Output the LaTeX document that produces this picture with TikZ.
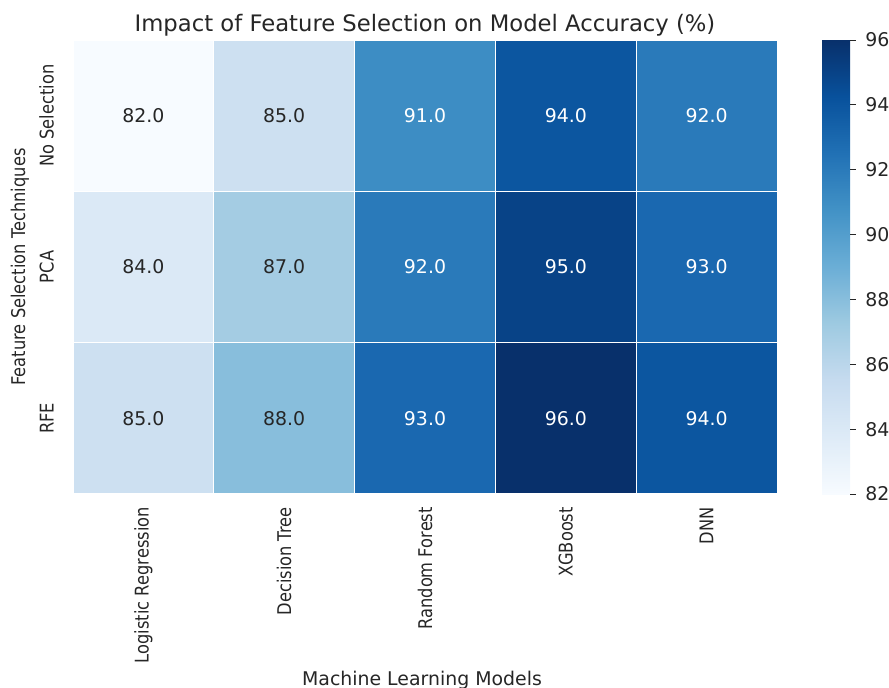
\documentclass[tikz,border=0pt]{standalone}
\usepackage{fontspec}
\setmainfont{DejaVu Sans}
\usepackage{xcolor}

\definecolor{txtgray}{RGB}{38,38,38}
% cell fills, one per value
\definecolor{v82}{RGB}{247,251,255}
\definecolor{v84}{RGB}{219,233,246}
\definecolor{v85}{RGB}{205,224,241}
\definecolor{v87}{RGB}{164,204,227}
\definecolor{v88}{RGB}{136,190,220}
\definecolor{v91}{RGB}{61,141,196}
\definecolor{v92}{RGB}{42,122,186}
\definecolor{v93}{RGB}{26,104,176}
\definecolor{v94}{RGB}{12,86,160}
\definecolor{v95}{RGB}{8,67,135}
\definecolor{v96}{RGB}{8,48,107}
% blues colormap stops
\definecolor{b0}{RGB}{247,251,255}
\definecolor{b1}{RGB}{222,235,247}
\definecolor{b2}{RGB}{198,219,239}
\definecolor{b3}{RGB}{158,202,225}
\definecolor{b4}{RGB}{107,174,214}
\definecolor{b5}{RGB}{66,146,198}
\definecolor{b6}{RGB}{33,113,181}
\definecolor{b7}{RGB}{8,81,156}
\definecolor{b8}{RGB}{8,48,107}
\pgfdeclareverticalshading{blues}{100bp}{color(0bp)=(b0); color(25bp)=(b0);
	color(31.25bp)=(b1); color(37.5bp)=(b2); color(43.75bp)=(b3);
	color(50bp)=(b4); color(56.25bp)=(b5); color(62.5bp)=(b6);
	color(68.75bp)=(b7); color(75bp)=(b8); color(100bp)=(b8)}

\begin{document}
\begin{tikzpicture}[x=1pt, y=-1pt, font=\fontsize{18.9}{22}\selectfont, text=txtgray]
	\tikzstyle{cell}=[draw=white, line width=1pt, minimum width=140.8pt, minimum height=151.3pt, inner sep=0pt]
	\tikzstyle{darkcell}=[cell, text=white]
	\tikzstyle{ylab}=[rotate=90, xscale=0.86, anchor=base, inner sep=0pt]
	\tikzstyle{xlab}=[rotate=90, xscale=0.86, anchor=east, inner sep=0pt]
	\tikzstyle{cbtick}=[anchor=west, inner sep=0pt, xshift=9pt]
	\tikzstyle{tickmark}=[draw=txtgray, line width=0.8pt]

	\useasboundingbox (0,0) rectangle (889,688);

	\node[anchor=base, font=\fontsize{22.7}{27}\selectfont] (title) at (425,31) {Impact of Feature Selection on Model Accuracy (\%)};

	%%%% No Selection
	\node[cell, fill=v82] (ns-lr) at (143.4,115.7) {82.0};
	\node[cell, fill=v85] (ns-dt) at (284.2,115.7) {85.0};
	\node[darkcell, fill=v91] (ns-rf) at (425.0,115.7) {91.0};
	\node[darkcell, fill=v94] (ns-xg) at (565.8,115.7) {94.0};
	\node[darkcell, fill=v92] (ns-dnn) at (706.6,115.7) {92.0};

	%%%% PCA
	\node[cell, fill=v84] (pca-lr) at (143.4,267.0) {84.0};
	\node[cell, fill=v87] (pca-dt) at (284.2,267.0) {87.0};
	\node[darkcell, fill=v92] (pca-rf) at (425.0,267.0) {92.0};
	\node[darkcell, fill=v95] (pca-xg) at (565.8,267.0) {95.0};
	\node[darkcell, fill=v93] (pca-dnn) at (706.6,267.0) {93.0};

	%%%% RFE
	\node[cell, fill=v85] (rfe-lr) at (143.4,418.3) {85.0};
	\node[cell, fill=v88] (rfe-dt) at (284.2,418.3) {88.0};
	\node[darkcell, fill=v93] (rfe-rf) at (425.0,418.3) {93.0};
	\node[darkcell, fill=v96] (rfe-xg) at (565.8,418.3) {96.0};
	\node[darkcell, fill=v94] (rfe-dnn) at (706.6,418.3) {94.0};

	% row labels
	\node[ylab] (lab-ns) at (53.5,115.7) {No Selection};
	\node[ylab] (lab-pca) at (53.5,267.0) {PCA};
	\node[ylab] (lab-rfe) at (53.5,418.3) {RFE};
	\node[ylab] (ylabel) at (25,267) {Feature Selection Techniques};

	% column labels
	\node[xlab] (lab-lr) at (143.4,507) {Logistic Regression};
	\node[xlab] (lab-dt) at (284.2,507) {Decision Tree};
	\node[xlab] (lab-rf) at (425.0,507) {Random Forest};
	\node[xlab] (lab-xg) at (565.8,507) {XGBoost};
	\node[xlab] (lab-dnn) at (706.6,507) {DNN};
	\node[anchor=base] (xlabel) at (422,685) {Machine Learning Models};

	%%%% colorbar
	\node[shade, shading=blues, minimum width=28pt, minimum height=454pt, inner sep=0pt] (cbar) at (836,267) {};
	\foreach \v in {82,84,...,96} {
		\pgfmathsetmacro{\ty}{494-(\v-82)*454/14}
		\draw[tickmark] (850,\ty) -- (856,\ty) node[cbtick] (t\v) {\v};
	}
\end{tikzpicture}
\end{document}
